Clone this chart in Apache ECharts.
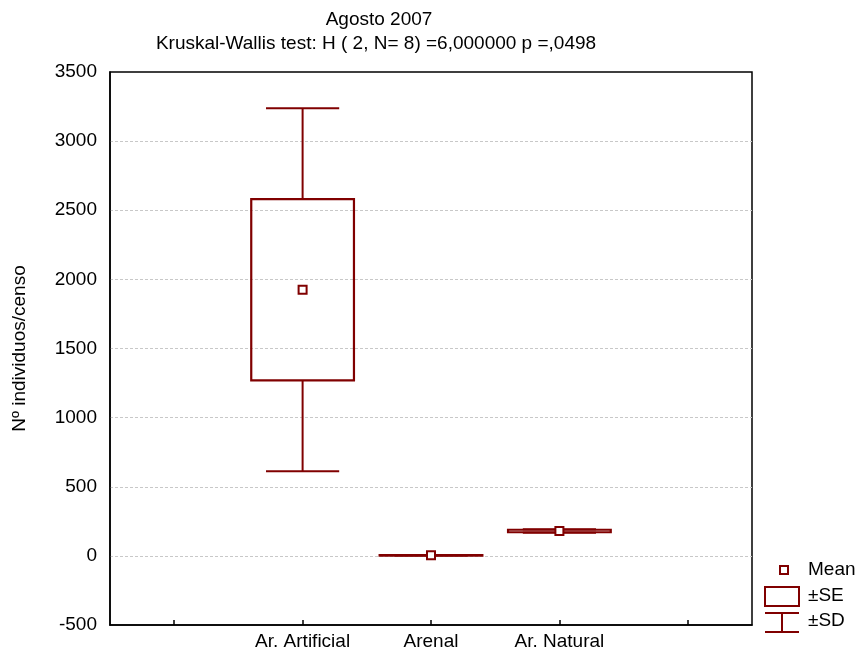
<!DOCTYPE html>
<html><head><meta charset="utf-8">
<script src="https://cdn.jsdelivr.net/npm/echarts@6/dist/echarts.min.js"></script>
<style>html,body{margin:0;padding:0;background:#fff}#c{width:859px;height:657px}</style>
</head><body><div id="c"></div>
<script>
const categories = ['', 'Ar. Artificial', 'Arenal', 'Ar. Natural', ''];
const groups = ['Ar. Artificial', 'Arenal', 'Ar. Natural'];
const means = [1925, 4, 180];
const se = [655, 1, 9];
const sd = [1312, 2, 12];
const yTicks = [-500, 0, 500, 1000, 1500, 2000, 2500, 3000, 3500];

const RED = '#800000';
const FONT = 'Liberation Sans, Arial, sans-serif';
const FS = 19;
const chart = echarts.init(document.getElementById('c'));

function renderItem(params, api) {
  const x = api.value(0), m = api.value(1), s = api.value(2), d = api.value(3);
  const band = api.size([1, 0])[0];
  const bw = band * 0.8, cw = band * 0.57;
  const c = api.coord([x, m]);
  const top = api.coord([x, m + s])[1], bot = api.coord([x, m - s])[1];
  const sdTop = api.coord([x, m + d])[1], sdBot = api.coord([x, m - d])[1];
  const cx = c[0];
  const ls = {stroke: RED, lineWidth: 2, fill: null};
  const ch = [];
  ch.push({type: 'line', shape: {x1: cx, y1: sdTop, x2: cx, y2: top}, style: ls});
  ch.push({type: 'line', shape: {x1: cx, y1: bot, x2: cx, y2: sdBot}, style: ls});
  ch.push({type: 'line', shape: {x1: cx - cw / 2, y1: sdTop, x2: cx + cw / 2, y2: sdTop}, style: ls});
  ch.push({type: 'line', shape: {x1: cx - cw / 2, y1: sdBot, x2: cx + cw / 2, y2: sdBot}, style: ls});
  ch.push({type: 'rect', shape: {x: cx - bw / 2, y: top, width: bw, height: Math.max(bot - top, 0.5)}, style: {stroke: RED, lineWidth: 2.2, fill: 'rgba(255,255,255,0)'}});
  ch.push({type: 'rect', shape: {x: cx - 4, y: c[1] - 4, width: 8, height: 8}, style: {stroke: RED, lineWidth: 2, fill: '#fff'}});
  return {type: 'group', children: ch};
}

chart.setOption({
  animation: false,
  textStyle: {fontFamily: FONT},
  grid: {left: 110, right: 107, top: 72, bottom: 32, show: true, borderColor: '#000', borderWidth: 1.5},
  xAxis: {
    type: 'category', data: categories, boundaryGap: true,
    axisLine: {show: true, onZero: false, lineStyle: {color: '#000', width: 1.5}},
    axisTick: {show: true, alignWithLabel: true, inside: true, length: 5, lineStyle: {color: '#000', width: 1.5}, interval: 0},
    axisLabel: {color: '#000', fontSize: FS, fontFamily: FONT, margin: 7, interval: 0},
    splitLine: {show: false}
  },
  yAxis: {
    type: 'value', min: yTicks[0], max: yTicks[yTicks.length - 1], interval: 500,
    name: 'Nº individuos/censo', nameLocation: 'middle', nameGap: 81, nameRotate: 90,
    nameTextStyle: {color: '#000', fontSize: FS, fontFamily: FONT},
    axisLine: {show: true, onZero: false, lineStyle: {color: '#000', width: 1.5}},
    axisTick: {show: false},
    axisLabel: {color: '#000', fontSize: FS, fontFamily: FONT, margin: 13, formatter: v => String(v)},
    splitLine: {show: true, showMinLine: false, showMaxLine: false, lineStyle: {color: '#c8c8c8', type: [3, 2], width: 1}}
  },
  series: [{
    type: 'custom', renderItem: renderItem,
    encode: {x: 0, y: [1]},
    data: groups.map((g, i) => [g, means[i], se[i], sd[i]])
  }],
  graphic: [
    {type: 'text', x: 379, y: 20, style: {text: 'Agosto 2007', fill: '#000', font: FS + 'px ' + FONT, textAlign: 'center', textVerticalAlign: 'middle'}},
    {type: 'text', x: 376, y: 44, style: {text: 'Kruskal-Wallis test: H ( 2, N= 8) =6,000000 p =,0498', fill: '#000', font: FS + 'px ' + FONT, textAlign: 'center', textVerticalAlign: 'middle'}},
    {type: 'rect', shape: {x: 780, y: 566, width: 8, height: 8}, style: {stroke: RED, lineWidth: 2, fill: '#fff'}},
    {type: 'text', x: 808, y: 570, style: {text: 'Mean', fill: '#000', font: FS + 'px ' + FONT, textVerticalAlign: 'middle'}},
    {type: 'rect', shape: {x: 765, y: 587, width: 34, height: 19}, style: {stroke: RED, lineWidth: 2, fill: '#fff'}},
    {type: 'text', x: 808, y: 596, style: {text: '±SE', fill: '#000', font: FS + 'px ' + FONT, textVerticalAlign: 'middle'}},
    {type: 'line', shape: {x1: 765, y1: 613, x2: 799, y2: 613}, style: {stroke: RED, lineWidth: 2}},
    {type: 'line', shape: {x1: 765, y1: 632, x2: 799, y2: 632}, style: {stroke: RED, lineWidth: 2}},
    {type: 'line', shape: {x1: 782, y1: 613, x2: 782, y2: 632}, style: {stroke: RED, lineWidth: 2}},
    {type: 'text', x: 808, y: 621, style: {text: '±SD', fill: '#000', font: FS + 'px ' + FONT, textVerticalAlign: 'middle'}}
  ]
});
</script></body></html>
